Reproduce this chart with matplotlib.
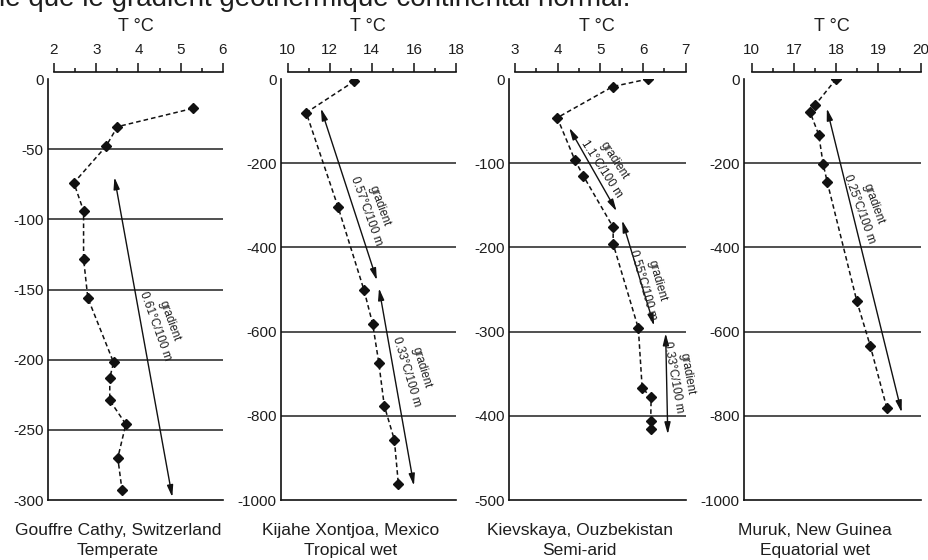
import matplotlib.pyplot as plt
from matplotlib.ticker import MultipleLocator

plt.rcParams['font.family'] = ['Liberation Sans', 'DejaVu Sans']

# Gouffre Cathy, Switzerland
cathy_t = [5.28, 3.50, 3.23, 2.47, 2.70, 2.70, 2.80, 3.41, 3.32, 3.32, 3.70, 3.51, 3.61]
cathy_z = [-21, -34, -48, -74, -94, -128, -156, -202, -213, -229, -246, -270, -293]
cathy_grad_t = [[3.43, 4.80]]
cathy_grad_z = [[-70, -298]]
cathy_grad_txt = ['gradient\n0.61°C/100 m']

# Kijahe Xontjoa, Mexico
kij_t = [13.17, 10.88, 12.40, 13.63, 14.04, 14.33, 14.59, 15.07, 15.26]
kij_z = [-5, -80, -305, -502, -582, -674, -776, -857, -962]
kij_grad_t = [[11.58, 14.24], [14.34, 16.0]]
kij_grad_z = [[-70, -478], [-497, -966]]
kij_grad_txt = ['gradient\n0.57°C/100 m', 'gradient\n0.33°C/100 m']

# Kievskaya, Ouzbekistan
kiev_t = [6.12, 5.29, 3.99, 4.40, 4.60, 5.30, 5.30, 5.89, 5.98, 6.19, 6.18, 6.18]
kiev_z = [0, -9, -46, -96, -115, -176, -196, -296, -367, -378, -406, -416]
kiev_grad_t = [[4.27, 5.38], [5.51, 6.26], [6.53, 6.58]]
kiev_grad_z = [[-58, -157], [-168, -293], [-302, -422]]
kiev_grad_txt = ['gradient\n1.1°C/100 m', 'gradient\n0.55°C/100 m', 'gradient\n0.33°C/100 m']

# Muruk, New Guinea
muruk_t = [18.0, 17.51, 17.38, 17.59, 17.69, 17.79, 18.49, 18.81, 19.20]
muruk_z = [0, -61, -78, -133, -201, -245, -528, -635, -782]
muruk_grad_t = [[17.78, 19.55]]
muruk_grad_z = [[-70, -792]]
muruk_grad_txt = ['gradient\n0.25°C/100 m']

# graduations
cathy_xticks = [2, 3, 4, 5, 6]
kij_xticks = [10, 12, 14, 16, 18]
kiev_xticks = [3, 4, 5, 6, 7]
muruk_xticks = [16, 17, 18, 19, 20]
muruk_xlabels = ['10', '17', '18', '19', '20']

cathy_yticks = [0, -50, -100, -150, -200, -250, -300]
kij_yticks = [0, -200, -400, -600, -800, -1000]
kiev_yticks = [0, -100, -200, -300, -400, -500]
muruk_yticks = [0, -200, -400, -600, -800, -1000]

titres = ['Gouffre Cathy, Switzerland\nTemperate',
          'Kijahe Xontjoa, Mexico\nTropical wet',
          'Kievskaya, Ouzbekistan\nSemi-arid',
          'Muruk, New Guinea\nEquatorial wet']

texte_col = '#1e1e1e'


def tracerPanneau(ax, temps, prof, xticks, xlabels, xmin, xminor, yticks,
                  grad_t, grad_z, grad_txt, txt_pos, txt_rot, titre):
    # lignes horizontales
    for v in yticks[1:-1]:
        ax.axhline(v, color='#202020', lw=1.1, zorder=1)
    # profil mesure
    ax.plot(temps, prof, color='#111111', lw=1.1, linestyle=(0, (3, 2)),
            marker='D', markersize=4.7, zorder=3)
    # fleches de gradient
    for (t0, t1), (z0, z1) in zip(grad_t, grad_z):
        ax.annotate('', xy=(t1, z1), xytext=(t0, z0),
                    arrowprops=dict(arrowstyle='<|-|>,head_length=0.7,head_width=0.18',
                                    color='#111111', lw=1.0, shrinkA=0, shrinkB=0))
    for txt, (tx, tz), rot in zip(grad_txt, txt_pos, txt_rot):
        ax.text(tx, tz, txt, rotation=rot, rotation_mode='anchor',
                ha='center', va='center', fontsize=8.5, linespacing=1.3,
                color=texte_col)

    ax.set_xlim(xmin, xticks[-1])
    ax.set_ylim(yticks[-1], 0)
    ax.xaxis.tick_top()
    ax.xaxis.set_label_position('top')
    ax.set_xticks(xticks)
    ax.set_xticklabels(xlabels)
    ax.xaxis.set_minor_locator(MultipleLocator(xminor))
    ax.tick_params(axis='x', which='major', direction='out', length=6.5, width=1.1,
                   labelsize=11, pad=4, colors='#111111', labelcolor=texte_col)
    ax.tick_params(axis='x', which='minor', direction='out', length=2.8, width=1.1,
                   colors='#111111')
    ax.set_xlabel('T °C', fontsize=13, labelpad=9, color=texte_col)

    ax.set_yticks(yticks)
    ax.set_yticklabels([str(v) for v in yticks])
    ax.tick_params(axis='y', length=0, pad=3, labelsize=11, labelcolor=texte_col)

    ax.spines['top'].set_position(('outward', 5))
    ax.spines['top'].set_bounds(xticks[0], xticks[-1])
    ax.spines['right'].set_visible(False)
    for s in ['top', 'left', 'bottom']:
        ax.spines[s].set_linewidth(1.2)
        ax.spines[s].set_color('#111111')

    ax.text(0.40, -0.055, titre, transform=ax.transAxes, ha='center', va='top',
            fontsize=12.5, linespacing=1.4, color=texte_col)


fig = plt.figure(figsize=(9.29, 5.6), dpi=100)

fig.text(-0.001, 1 - 6.5 / 560, 'le que le gradient géothermique continental normal.',
         fontsize=20, va='baseline', ha='left', color=texte_col)

bas = 60 / 560
haut = 421 / 560
ax1 = fig.add_axes([48 / 929, bas, 175 / 929, haut])
ax2 = fig.add_axes([280.7 / 929, bas, 175.3 / 929, haut])
ax3 = fig.add_axes([509 / 929, bas, 176.7 / 929, haut])
ax4 = fig.add_axes([744 / 929, bas, 176.7 / 929, haut])

tracerPanneau(ax1, cathy_t, cathy_z, cathy_xticks, [str(v) for v in cathy_xticks],
              1.858, 0.5, cathy_yticks, cathy_grad_t, cathy_grad_z, cathy_grad_txt,
              [(4.56, -174)], [-70], titres[0])
tracerPanneau(ax2, kij_t, kij_z, kij_xticks, [str(v) for v in kij_xticks],
              9.667, 1, kij_yticks, kij_grad_t, kij_grad_z, kij_grad_txt,
              [(14.05, -307), (16.0, -690)], [-70, -73], titres[1])
tracerPanneau(ax3, kiev_t, kiev_z, kiev_xticks, [str(v) for v in kiev_xticks],
              2.859, 0.5, kiev_yticks, kiev_grad_t, kiev_grad_z, kiev_grad_txt,
              [(5.18, -102), (6.16, -242), (6.87, -352)], [-57, -74, -80], titres[2])
tracerPanneau(ax4, muruk_t, muruk_z, muruk_xticks, muruk_xlabels,
              15.82, 0.5, muruk_yticks, muruk_grad_t, muruk_grad_z, muruk_grad_txt,
              [(18.71, -302)], [-70], titres[3])

plt.savefig('out.png', dpi=100)
